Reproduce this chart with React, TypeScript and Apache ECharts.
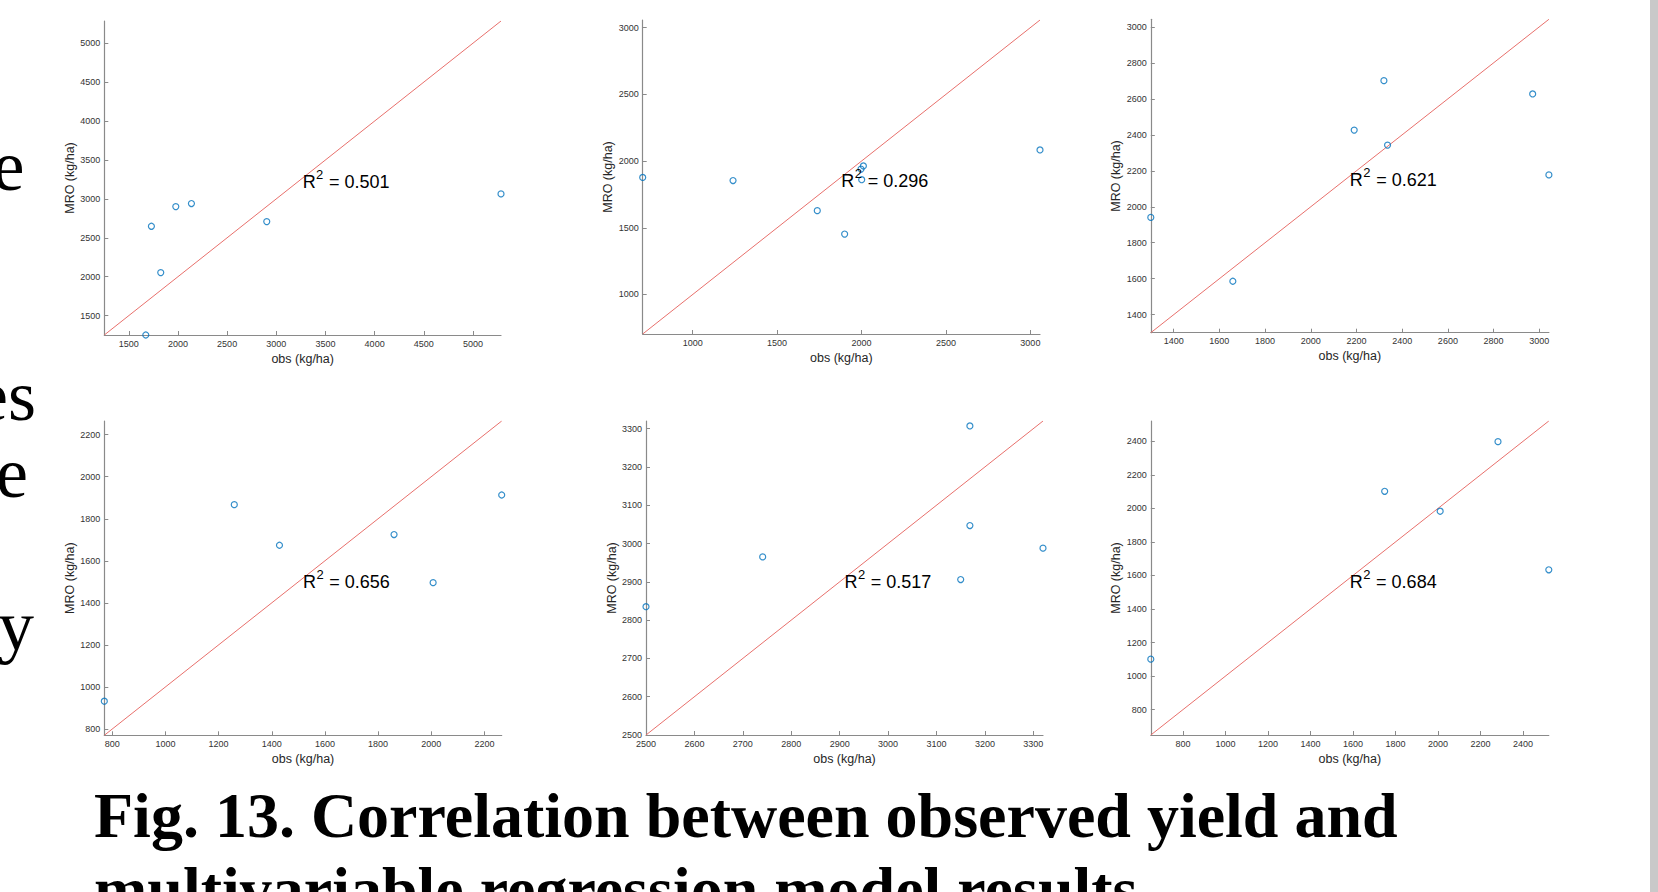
import React, { useEffect, useRef } from "react";
import * as echarts from "echarts";

// ---- data ----
const obs1 = [1673, 1730, 1825, 1978, 2137, 2903, 5285];
const mro1 = [1251, 2648, 2053, 2901, 2940, 2708, 3064];
const obs2 = [704, 1239, 1738, 1900, 1997, 2011, 2001, 3057];
const mro2 = [1877, 1854, 1628, 1453, 1940, 1963, 1860, 2083];
const obs3 = [1300, 1659, 2190, 2320, 2336, 2971, 3042];
const mro3 = [1941, 1586, 2426, 2701, 2343, 2627, 2177];
const obs4 = [770, 1259, 1429, 1860, 2007, 2265];
const mro4 = [932, 1867, 1674, 1725, 1496, 1913];
const obs5 = [2500, 2741, 3150, 3169, 3169, 3320];
const mro5 = [2835, 2965, 2906, 3307, 3047, 2988];
const obs6 = [649, 1749, 2010, 2282, 2521];
const mro6 = [1101, 2102, 1983, 2398, 1634];

const r2Values = ["0.501", "0.296", "0.621", "0.656", "0.517", "0.684"];

const ticks1 = [1500, 2000, 2500, 3000, 3500, 4000, 4500, 5000];
const ticks2 = [1000, 1500, 2000, 2500, 3000];
const ticks3 = [1400, 1600, 1800, 2000, 2200, 2400, 2600, 2800, 3000];
const ticks4 = [800, 1000, 1200, 1400, 1600, 1800, 2000, 2200];
const ticks5 = [2500, 2600, 2700, 2800, 2900, 3000, 3100, 3200, 3300];
const ticks6 = [800, 1000, 1200, 1400, 1600, 1800, 2000, 2200, 2400];

const xName = "obs (kg/ha)";
const yName = "MRO (kg/ha)";
const captionLine1 = "Fig. 13. Correlation between observed yield and";
const captionLine2 = "multivariable regression model results";
const sideWords = ["e", "es", "e", "y"];

// ---- layout (pixels) ----
const grids = [
  { left: 104.3, top: 21, width: 396.7, height: 314 },
  { left: 642.7, top: 20, width: 397.3, height: 314 },
  { left: 1150.8, top: 19.3, width: 398.1, height: 313.4 },
  { left: 104.3, top: 421, width: 397.4, height: 314.3 },
  { left: 646, top: 421, width: 397, height: 314 },
  { left: 1150.8, top: 421, width: 398, height: 314 },
];
const sideLayout = [
  { right: 24.5, y: 165.7 },
  { right: 36, y: 395.7 },
  { right: 28, y: 472.7 },
  { right: 34, y: 625.7 },
];

const SANS = "Liberation Sans";
const SERIF = "Liberation Serif";
const AXIS_COLOR = "#8a8a8a";

export default function App() {
  const ref = useRef<HTMLDivElement>(null);

  useEffect(() => {
    if (!ref.current) return;
    const chart = echarts.init(ref.current, undefined, { renderer: "svg" });

    const panels = [
      { obs: obs1, mro: mro1, ticks: ticks1 },
      { obs: obs2, mro: mro2, ticks: ticks2 },
      { obs: obs3, mro: mro3, ticks: ticks3 },
      { obs: obs4, mro: mro4, ticks: ticks4 },
      { obs: obs5, mro: mro5, ticks: ticks5 },
      { obs: obs6, mro: mro6, ticks: ticks6 },
    ];

    const xAxes: any[] = [];
    const yAxes: any[] = [];
    const series: any[] = [];
    const graphics: any[] = [];

    panels.forEach((p, i) => {
      const lo = Math.min(...p.obs, ...p.mro);
      const hi = Math.max(...p.obs, ...p.mro);
      const step = p.ticks[1] - p.ticks[0];
      const splitNumber = Math.round((hi - lo) / step);
      const fmt = (v: number) =>
        p.ticks.some((t) => Math.abs(t - v) < 1e-6) ? String(Math.round(v)) : "";
      const common = {
        type: "value",
        gridIndex: i,
        min: lo,
        max: hi,
        splitNumber,
        nameLocation: "middle",
        nameTextStyle: { fontFamily: SANS, fontSize: 12.5, color: "#262626" },
        axisLine: { show: true, onZero: false, lineStyle: { color: AXIS_COLOR, width: 1.2 } },
        axisTick: { show: true, inside: true, length: 4, customValues: p.ticks, lineStyle: { color: AXIS_COLOR, width: 1 } },
        axisLabel: { show: true, margin: 4, fontFamily: SANS, fontSize: 9, color: "#333333", customValues: p.ticks, formatter: fmt },
        splitLine: { show: false },
      };
      xAxes.push({ ...common, name: xName, nameGap: 17 });
      yAxes.push({ ...common, name: yName, nameGap: 28 });

      series.push({
        type: "line",
        xAxisIndex: i,
        yAxisIndex: i,
        data: [
          [lo, lo],
          [hi, hi],
        ],
        symbol: "none",
        silent: true,
        lineStyle: { color: "#e8706c", width: 1 },
        z: 2,
      });
      series.push({
        type: "scatter",
        xAxisIndex: i,
        yAxisIndex: i,
        data: p.obs.map((x, j) => [x, p.mro[j]]),
        symbol: "circle",
        symbolSize: 6,
        clip: false,
        itemStyle: { color: "rgba(0,0,0,0)", borderColor: "#0072BD", borderWidth: 1.2 },
        z: 3,
      });

      const g = grids[i];
      const cx = g.left + g.width / 2;
      const cy = g.top + g.height / 2;
      const base = { fill: "#000", fontFamily: SANS, align: "left", textAlign: "left", verticalAlign: "middle", textVerticalAlign: "middle" };
      graphics.push({ type: "text", x: cx, y: cy + 3.9, z: 10, style: { ...base, text: "R", fontSize: 18 } });
      graphics.push({ type: "text", x: cx + 13.4, y: cy - 3.4, z: 10, style: { ...base, text: "2", fontSize: 13 } });
      graphics.push({ type: "text", x: cx + 26.3, y: cy + 3.9, z: 10, style: { ...base, text: "= " + r2Values[i], fontSize: 18 } });
    });

    // body text fragments at the left edge (cut off by the page edge, as in the reference)
    sideWords.forEach((w, k) => {
      graphics.push({
        type: "text",
        x: sideLayout[k].right,
        y: sideLayout[k].y,
        style: { text: w, fill: "#000", fontFamily: SERIF, fontSize: 72, align: "right", textAlign: "right", verticalAlign: "middle", textVerticalAlign: "middle" },
      });
    });

    // caption
    graphics.push({
      type: "text",
      x: 94,
      y: 815,
      style: { text: captionLine1, fill: "#000", fontFamily: SERIF, fontWeight: "bold", fontSize: 64, align: "left", textAlign: "left", verticalAlign: "middle", textVerticalAlign: "middle" },
    });
    graphics.push({
      type: "text",
      x: 94,
      y: 889,
      style: { text: captionLine2, fill: "#000", fontFamily: SERIF, fontWeight: "bold", fontSize: 64, align: "left", textAlign: "left", verticalAlign: "middle", textVerticalAlign: "middle" },
    });

    // grey bar on the right edge
    graphics.push({ type: "rect", shape: { x: 1650, y: 0, width: 8, height: 892 }, style: { fill: "#c9c9c9" } });

    chart.setOption({
      animation: false,
      backgroundColor: "#ffffff",
      grid: grids.map((g) => ({ ...g, containLabel: false, outerBoundsMode: "none" })),
      xAxis: xAxes,
      yAxis: yAxes,
      series,
      graphic: { elements: graphics },
    });

    return () => chart.dispose();
  }, []);

  return (
    <div
      ref={ref}
      style={{ position: "absolute", left: 0, top: 0, width: 1658, height: 892, background: "#fff", overflow: "hidden" }}
    />
  );
}
